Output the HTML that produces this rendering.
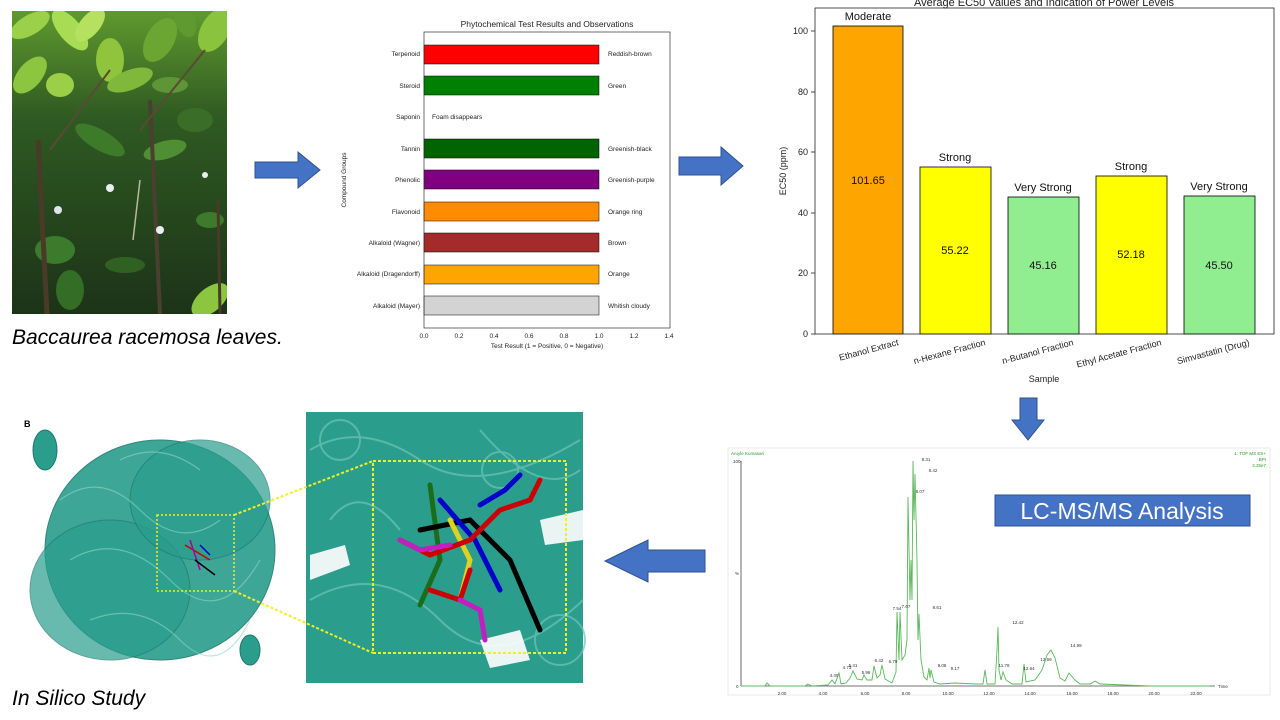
<!DOCTYPE html>
<html><head><meta charset="utf-8"><style>
html,body{margin:0;padding:0;background:#fff;}
body{width:1280px;height:720px;position:relative;overflow:hidden;font-family:"Liberation Sans",sans-serif;}
.abs{position:absolute;}
</style></head><body>
<svg width="1280" height="720" viewBox="0 0 1280 720" class="abs" style="left:0;top:0" font-family="Liberation Sans, sans-serif">
<defs>
<linearGradient id="leaf" x1="0" y1="0" x2="0" y2="1">
<stop offset="0" stop-color="#5f9a2e"/><stop offset="0.35" stop-color="#2f5a22"/><stop offset="1" stop-color="#1c3318"/></linearGradient>
<clipPath id="pc"><rect x="12" y="11" width="215" height="303"/></clipPath>
</defs>
<!-- photo -->
<rect x="12" y="11" width="215" height="303" fill="url(#leaf)"/>
<g clip-path="url(#pc)">
<ellipse cx="30" cy="25" rx="22" ry="10" fill="#9bd04a" transform="rotate(-30 30 25)"/>
<ellipse cx="70" cy="30" rx="25" ry="11" fill="#a8dc55" transform="rotate(50 70 30)"/>
<ellipse cx="110" cy="60" rx="14" ry="22" fill="#8fc43c"/>
<ellipse cx="90" cy="25" rx="20" ry="10" fill="#b5e060" transform="rotate(-50 90 25)"/>
<ellipse cx="130" cy="80" rx="24" ry="10" fill="#7fb83a" transform="rotate(-20 130 80)"/>
<ellipse cx="30" cy="75" rx="22" ry="12" fill="#8cc640" transform="rotate(-50 30 75)"/>
<ellipse cx="60" cy="85" rx="14" ry="12" fill="#9ccf48"/>
<ellipse cx="160" cy="40" rx="14" ry="24" fill="#6ca632" transform="rotate(30 160 40)"/>
<ellipse cx="215" cy="30" rx="14" ry="24" fill="#8ac43e" transform="rotate(30 215 30)"/>
<ellipse cx="185" cy="20" rx="10" ry="18" fill="#5f9a30" transform="rotate(-20 185 20)"/>
<ellipse cx="170" cy="85" rx="18" ry="8" fill="#5e9535"/>
<ellipse cx="100" cy="140" rx="28" ry="10" fill="#3d7a2a" transform="rotate(30 100 140)"/>
<ellipse cx="165" cy="150" rx="22" ry="9" fill="#4f8e33" transform="rotate(-15 165 150)"/>
<ellipse cx="195" cy="120" rx="18" ry="12" fill="#3a6e28"/>
<ellipse cx="55" cy="250" rx="20" ry="14" fill="#3c7a2c"/>
<ellipse cx="70" cy="290" rx="14" ry="20" fill="#346d26"/>
<ellipse cx="125" cy="265" rx="20" ry="8" fill="#2f6222"/>
<ellipse cx="210" cy="300" rx="22" ry="12" fill="#8cc640" transform="rotate(-40 210 300)"/>
<ellipse cx="210" cy="220" rx="14" ry="8" fill="#3e7a2c"/>
<line x1="38" y1="140" x2="47" y2="314" stroke="#4a3a28" stroke-width="5"/>
<line x1="150" y1="100" x2="160" y2="314" stroke="#4a3f30" stroke-width="4"/>
<line x1="140" y1="180" x2="133" y2="240" stroke="#b8b8a0" stroke-width="1.5"/>
<line x1="50" y1="150" x2="110" y2="70" stroke="#5a4a35" stroke-width="2"/>
<line x1="140" y1="130" x2="205" y2="50" stroke="#5a4a35" stroke-width="2"/>
<line x1="218" y1="200" x2="220" y2="314" stroke="#4a3a28" stroke-width="3"/>
<circle cx="110" cy="188" r="4" fill="#e8eef4"/><circle cx="58" cy="210" r="4" fill="#dde6ee"/>
<circle cx="160" cy="230" r="4" fill="#e8eef4"/><circle cx="205" cy="175" r="3" fill="#e8eef4"/>
</g>
<text x="12" y="344" font-size="21" font-style="italic" fill="#000">Baccaurea racemosa leaves.</text>
<!-- arrows -->
<polygon points="255,162 298,162 298,152 320,170 298,188 298,178 255,178" fill="#4472C4" stroke="#2f528f" stroke-width="1"/>
<polygon points="679,157 721,157 721,147 743,166 721,185 721,175 679,175" fill="#4472C4" stroke="#2f528f" stroke-width="1"/>
<polygon points="1020,398 1037,398 1037,420 1044,420 1028,440 1012,420 1020,420" fill="#4472C4" stroke="#2f528f" stroke-width="1"/>
<polygon points="705,550 648,550 648,540 605,561 648,582 648,572 705,572" fill="#4472C4" stroke="#2f528f" stroke-width="1"/>

<!-- phyto chart -->
<text x="547" y="27" font-size="8.5" text-anchor="middle" fill="#222">Phytochemical Test Results and Observations</text>
<g stroke="#000" stroke-width="0.5">
<rect x="424" y="45" width="175" height="19" fill="#ff0000"/>
<rect x="424" y="76" width="175" height="19" fill="#008000"/>
<rect x="424" y="139" width="175" height="19" fill="#006400"/>
<rect x="424" y="170" width="175" height="19" fill="#800080"/>
<rect x="424" y="202" width="175" height="19" fill="#ff8c00"/>
<rect x="424" y="233" width="175" height="19" fill="#a52a2a"/>
<rect x="424" y="265" width="175" height="19" fill="#ffa500"/>
<rect x="424" y="296" width="175" height="19" fill="#d3d3d3"/>
</g>
<rect x="424" y="32" width="246" height="296" fill="none" stroke="#333" stroke-width="0.7"/>
<g font-size="6.5" fill="#222">
<g text-anchor="end">
<text x="420" y="56">Terpenoid</text><text x="420" y="88">Steroid</text><text x="420" y="119">Saponin</text>
<text x="420" y="151">Tannin</text><text x="420" y="182">Phenolic</text><text x="420" y="214">Flavonoid</text>
<text x="420" y="245">Alkaloid (Wagner)</text><text x="420" y="276">Alkaloid (Dragendorff)</text><text x="420" y="308">Alkaloid (Mayer)</text>
</g>
<text x="608" y="56">Reddish-brown</text><text x="608" y="88">Green</text><text x="432" y="119">Foam disappears</text>
<text x="608" y="151">Greenish-black</text><text x="608" y="182">Greenish-purple</text><text x="608" y="214">Orange ring</text>
<text x="608" y="245">Brown</text><text x="608" y="276">Orange</text><text x="608" y="308">Whitish cloudy</text>
<g text-anchor="middle">
<text x="424" y="338">0.0</text><text x="459" y="338">0.2</text><text x="494" y="338">0.4</text><text x="529" y="338">0.6</text>
<text x="564" y="338">0.8</text><text x="599" y="338">1.0</text><text x="634" y="338">1.2</text><text x="669" y="338">1.4</text>
<text x="547" y="348">Test Result (1 = Positive, 0 = Negative)</text>
</g>
<text transform="translate(346 180) rotate(-90)" text-anchor="middle">Compound Groups</text>
</g>

<!-- EC50 chart -->
<text x="1044" y="6" font-size="11" text-anchor="middle" fill="#222">Average EC50 Values and Indication of Power Levels</text>
<g stroke="#000" stroke-width="0.8">
<rect x="833" y="26" width="70" height="308" fill="#ffa500"/>
<rect x="920" y="167" width="71" height="167" fill="#ffff00"/>
<rect x="1008" y="197" width="71" height="137" fill="#90ee90"/>
<rect x="1096" y="176" width="71" height="158" fill="#ffff00"/>
<rect x="1184" y="196" width="71" height="138" fill="#90ee90"/>
</g>
<rect x="815" y="8" width="459" height="326" fill="none" stroke="#222" stroke-width="0.8"/>
<g font-size="11" fill="#111" text-anchor="middle">
<text x="868" y="20">Moderate</text><text x="955" y="161">Strong</text><text x="1043" y="191">Very Strong</text>
<text x="1131" y="170">Strong</text><text x="1219" y="190">Very Strong</text>
<text x="868" y="184">101.65</text><text x="955" y="254">55.22</text><text x="1043" y="269">45.16</text>
<text x="1131" y="258">52.18</text><text x="1219" y="269">45.50</text>
</g>
<g font-size="9" fill="#222" text-anchor="end">
<text x="808" y="337">0</text><text x="808" y="276">20</text><text x="808" y="216">40</text>
<text x="808" y="155">60</text><text x="808" y="95">80</text><text x="808" y="34">100</text>
</g>
<g stroke="#222" stroke-width="0.8"><line x1="811" y1="334" x2="815" y2="334"/><line x1="811" y1="273" x2="815" y2="273"/><line x1="811" y1="213" x2="815" y2="213"/><line x1="811" y1="152" x2="815" y2="152"/><line x1="811" y1="92" x2="815" y2="92"/><line x1="811" y1="31" x2="815" y2="31"/></g>
<text transform="translate(786 171) rotate(-90)" font-size="9" text-anchor="middle" fill="#222">EC50 (ppm)</text>
<g font-size="9" fill="#222" text-anchor="end">
<text transform="translate(899 345) rotate(-15)">Ethanol Extract</text>
<text transform="translate(986 345) rotate(-15)">n-Hexane Fraction</text>
<text transform="translate(1074 345) rotate(-15)">n-Butanol Fraction</text>
<text transform="translate(1162 345) rotate(-15)">Ethyl Acetate Fraction</text>
<text transform="translate(1250 345) rotate(-15)">Simvastatin (Drug)</text>
</g>
<text x="1044" y="382" font-size="9" text-anchor="middle" fill="#222">Sample</text>

<!-- LC-MS -->
<rect x="728" y="448" width="542" height="247" fill="#fff" stroke="#ddd" stroke-width="0.6"/>
<g font-size="4.5" fill="#2a9a2a">
<text x="731" y="455">Aruyle Kumasari</text>
<text x="1266" y="455" text-anchor="end">1: TOF MS ES+</text>
<text x="1266" y="461" text-anchor="end">BPI</text>
<text x="1266" y="467" text-anchor="end">2.35e7</text>
</g>
<line x1="741" y1="461" x2="741" y2="686" stroke="#444" stroke-width="0.8"/>
<line x1="741" y1="686" x2="1215" y2="686" stroke="#444" stroke-width="0.8"/>
<g font-size="4.5" fill="#333">
<text x="733" y="463">100</text><text x="735" y="575">%</text><text x="736" y="688">0</text>
<text x="1218" y="688">Time</text>
<g text-anchor="middle">
<text x="782" y="695">2.00</text><text x="823" y="695">4.00</text><text x="865" y="695">6.00</text><text x="906" y="695">8.00</text>
<text x="948" y="695">10.00</text><text x="989" y="695">12.00</text><text x="1030" y="695">14.00</text><text x="1072" y="695">16.00</text>
<text x="1113" y="695">18.00</text><text x="1154" y="695">20.00</text><text x="1196" y="695">22.00</text>
</g>
</g>
<polyline fill="none" stroke="#5cb85c" stroke-width="0.9" points="741,686 765,686 767,683 770,686 805,686 808,684 812,686 828,685 832,680 835,684 839,673 841,684 846,683 850,678 853,671 857,679 862,680 864,675 867,680 872,680 874,666 877,678 880,675 882,665 885,679 892,683 896,672 897,612 899,660 900,612 902,660 905,655 907,640 908,497 910,600 911,560 912,600 913,461 914,520 915,474 917,560 918,640 919,614 921,660 924,677 927,680 929,668 930,678 931,670 934,682 940,684 955,683 975,684 983,684 985,670 987,684 995,684 997,650 998,627 999,670 1001,680 1003,672 1006,680 1012,684 1022,684 1024,664 1026,682 1035,680 1042,670 1047,655 1051,650 1055,658 1060,678 1065,681 1069,673 1075,680 1080,684 1090,684 1095,681 1100,684 1150,686 1210,686"/>
<g font-size="4.5" fill="#333" text-anchor="middle">
<text x="834" y="677">4.40</text><text x="847" y="669">4.73</text><text x="853" y="667">5.41</text><text x="866" y="674">5.96</text>
<text x="879" y="662">6.42</text><text x="881" y="663" dx="12">6.79</text><text x="901" y="610" dx="-4">7.54</text><text x="912" y="608" dx="-6">7.67</text>
<text x="920" y="493">8.07</text><text x="926" y="461">8.31</text><text x="933" y="472">8.42</text><text x="937" y="609">8.61</text>
<text x="942" y="667">9.08</text><text x="955" y="670">9.17</text><text x="1004" y="667">11.78</text><text x="1018" y="624">12.42</text>
<text x="1029" y="670">12.64</text><text x="1046" y="661">13.69</text><text x="1076" y="647">14.99</text>
</g>
<rect x="995" y="495" width="255" height="31" fill="#4472C4" stroke="#2f528f" stroke-width="1"/>
<text x="1122" y="519" font-size="23" fill="#fff" text-anchor="middle">LC-MS/MS Analysis</text>

<!-- protein left -->
<g fill="#2a9d8c" stroke="#1c7a6c" stroke-width="1">
<ellipse cx="160" cy="550" rx="115" ry="110" opacity="0.9"/>
<ellipse cx="110" cy="590" rx="80" ry="70" opacity="0.7"/>
<ellipse cx="200" cy="500" rx="70" ry="60" opacity="0.7"/>
<ellipse cx="45" cy="450" rx="12" ry="20"/>
<ellipse cx="250" cy="650" rx="10" ry="15"/>
</g>
<g stroke="#8fd6c8" stroke-width="1.2" fill="none" opacity="0.6">
<path d="M60 500 Q100 470 140 510 T220 520"/><path d="M70 560 Q120 530 170 580 T260 560"/>
<path d="M90 620 Q140 600 180 640 T250 620"/><path d="M120 460 Q160 440 200 470"/>
</g>
<text x="24" y="427" font-size="9" font-weight="bold" fill="#000">B</text>
<rect x="157" y="515" width="77" height="76" fill="none" stroke="#f0f020" stroke-width="1.5" stroke-dasharray="2,2"/>
<g stroke-width="1.5"><line x1="185" y1="545" x2="210" y2="560" stroke="#c00"/><line x1="190" y1="540" x2="200" y2="570" stroke="#a0a"/><line x1="195" y1="560" x2="215" y2="575" stroke="#000"/><line x1="200" y1="545" x2="210" y2="555" stroke="#00c"/></g>
<!-- zoom panel -->
<rect x="306" y="412" width="277" height="271" fill="#2a9d8c"/>
<g stroke="#6fc4b6" stroke-width="2" fill="none" opacity="0.7">
<path d="M310 450 Q360 420 420 460 T580 440"/><path d="M310 600 Q380 560 440 620 T583 600"/>
<path d="M330 520 Q360 480 400 530"/><path d="M480 430 Q540 500 580 470"/>
<circle cx="340" cy="440" r="20"/><circle cx="560" cy="640" r="25"/><circle cx="500" cy="470" r="18"/>
</g>
<g fill="#fff" opacity="0.9">
<path d="M310 555 L345 545 L350 565 L310 580Z"/><path d="M540 520 L583 510 L583 540 L545 545Z"/>
<path d="M480 640 L520 630 L530 660 L490 668Z"/>
</g>
<rect x="373" y="461" width="193" height="192" fill="none" stroke="#f0f020" stroke-width="2" stroke-dasharray="3,2"/>
<line x1="234" y1="515" x2="373" y2="461" stroke="#f0f020" stroke-width="2" stroke-dasharray="3,2"/>
<line x1="234" y1="591" x2="373" y2="653" stroke="#f0f020" stroke-width="2" stroke-dasharray="3,2"/>
<g stroke-width="5" fill="none" stroke-linecap="round">
<path d="M430 485 L440 560 L420 605" stroke="#1a6e1a"/>
<path d="M420 530 L470 520 L510 560 L540 630" stroke="#000"/>
<path d="M440 500 L475 540 L500 590" stroke="#0000cc"/>
<path d="M480 505 L505 490 L520 475" stroke="#0000cc"/>
<path d="M450 520 L470 560 L460 600" stroke="#e0d020"/>
<path d="M400 540 L430 555 L470 540 L500 510 L530 500 L540 480" stroke="#cc0000"/>
<path d="M430 590 L460 600 L470 570" stroke="#cc0000"/>
<path d="M400 540 L420 550 L450 545" stroke="#c020c0"/>
<path d="M460 600 L480 610 L485 640" stroke="#c020c0"/>
</g>
<text x="12" y="705" font-size="21" font-style="italic" fill="#000">In Silico Study</text>
</svg>
</body></html>
